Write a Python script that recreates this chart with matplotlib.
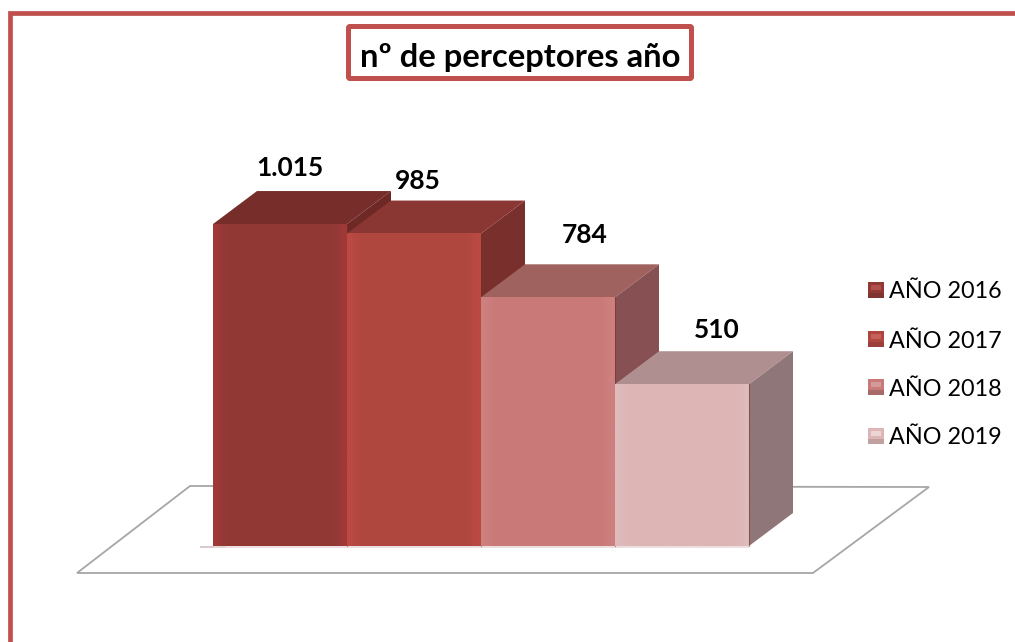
import matplotlib
matplotlib.use("Agg")
import matplotlib.pyplot as plt
from matplotlib.colors import LinearSegmentedColormap
from matplotlib.patches import FancyBboxPatch, Polygon, Rectangle
import numpy as np

plt.rcParams['font.family'] = ['Lato', 'DejaVu Sans']

# chart data
years = ["AÑO 2016", "AÑO 2017", "AÑO 2018", "AÑO 2019"]
values = [1015, 985, 784, 510]
value_labels = ["1.015", "985", "784", "510"]
title = "nº de perceptores año"

# colours of each bar
front_edge = ["#A03A38", "#BC4A43", "#CE8280", "#E0BCBC"]
front_mid = ["#913835", "#B0473F", "#C97A78", "#DDB5B5"]
top_colors = ["#772E2B", "#8A3733", "#A0625F", "#AF8F8F"]
side_colors = ["#6E2926", "#79302D", "#875052", "#8F7679"]
legend_light = ["#B0504C", "#C8605A", "#D49A98", "#EBD5D5"]
legend_dark = ["#7E3432", "#9A3F3B", "#A86A68", "#C0A0A0"]
frame_color = "#C0504D"

W, H = 1015, 642
BAR_PX = 134
X0 = 213
BASE_Y = 546
PX_PER_VALUE = 0.3172
DEPTH_X = 44 / BAR_PX
DEPTH_Y = 33 / PX_PER_VALUE

fig = plt.figure(figsize=(W / 100, H / 100), dpi=100)

# pixel overlay for frame, title and floor
px = fig.add_axes([0, 0, 1, 1])
px.set_xlim(0, W)
px.set_ylim(H, 0)
px.axis("off")

px.plot([10.3, 10.3, W], [H, 12.7, 12.7], color=frame_color, lw=3.4,
        solid_joinstyle="miter", zorder=1)
px.add_patch(Polygon([(77, 573), (813, 573), (929, 487), (190, 486)], closed=True,
                     fc="white", ec="#A6A6A6", lw=1.3, zorder=1))
px.add_patch(FancyBboxPatch((348.5, 26.5), 343, 52, boxstyle="round,pad=0,rounding_size=1.5",
                            fc="white", ec=frame_color, lw=3.6, zorder=2))
px.text(520, 57, title, ha="center", va="center", fontsize=23.6, fontweight="bold",
        color="black", zorder=3)

# bars in data coordinates, same scale as the picture
ax = fig.add_axes([0, 0, 1, 1], zorder=2)
ax.patch.set_alpha(0)
ax.axis("off")

# soft shadow on the floor
ax.add_patch(Rectangle((-0.1, -6), 0.2, 6, fc="#C9B5B5", ec="none", alpha=0.7, zorder=1))
ax.add_patch(Rectangle((0, -6), 4, 6, fc="#E6D8D8", ec="none", alpha=0.8, zorder=1))

for i, v in enumerate(values):
    z = 2 + i
    ax.add_patch(Polygon([(i, v), (i + DEPTH_X, v + DEPTH_Y), (i + 1 + DEPTH_X, v + DEPTH_Y), (i + 1, v)],
                         closed=True, fc=top_colors[i], ec="none", zorder=z))
    ax.add_patch(Polygon([(i + 1, 0), (i + 1 + DEPTH_X, DEPTH_Y), (i + 1 + DEPTH_X, v + DEPTH_Y), (i + 1, v)],
                         closed=True, fc=side_colors[i], ec="none", zorder=z))
    # front face with narrow lighter bands at both ends
    cmap = LinearSegmentedColormap.from_list(
        "face", [(0, front_edge[i]), (0.1, front_mid[i]), (0.9, front_mid[i]), (1, front_edge[i])])
    grad = np.linspace(0, 1, 60).reshape(1, -1)
    ax.imshow(grad, extent=(i, i + 1, 0, v), cmap=cmap, aspect="auto", zorder=z + 0.1,
              interpolation="bilinear")
    ax.plot([i + 1, i + 1], [0, v], color="#7A2C2A", lw=0.8, alpha=0.5, zorder=z + 0.2)

# value labels sit above each bar, offsets by hand
label_dx = [0.075, 0.03, 0.27, 0.26]
label_dy = [176, 165, 197, 170]
for i, v in enumerate(values):
    ax.text(i + 0.5 + label_dx[i], v + label_dy[i], value_labels[i],
            ha="center", va="center", fontsize=19, fontweight="bold", color="black", zorder=20)

ax.set_xlim(-X0 / BAR_PX, (W - X0) / BAR_PX)
ax.set_ylim((BASE_Y - H) / PX_PER_VALUE, BASE_Y / PX_PER_VALUE)

# legend
legend_y = [290, 339, 387, 436]
for i, y in enumerate(legend_y):
    px.add_patch(Rectangle((868, y - 8), 16, 16, fc=front_mid[i], ec="none", zorder=3))
    px.add_patch(Rectangle((871, y - 5), 10, 5, fc=legend_light[i], ec="none", zorder=3))
    px.add_patch(Rectangle((868, y + 3), 16, 5, fc=legend_dark[i], ec="none", zorder=3))
    px.text(889, y + 2, years[i], ha="left", va="center", fontsize=16.8, color="black", zorder=3)

fig.savefig("out.png", dpi=100)
